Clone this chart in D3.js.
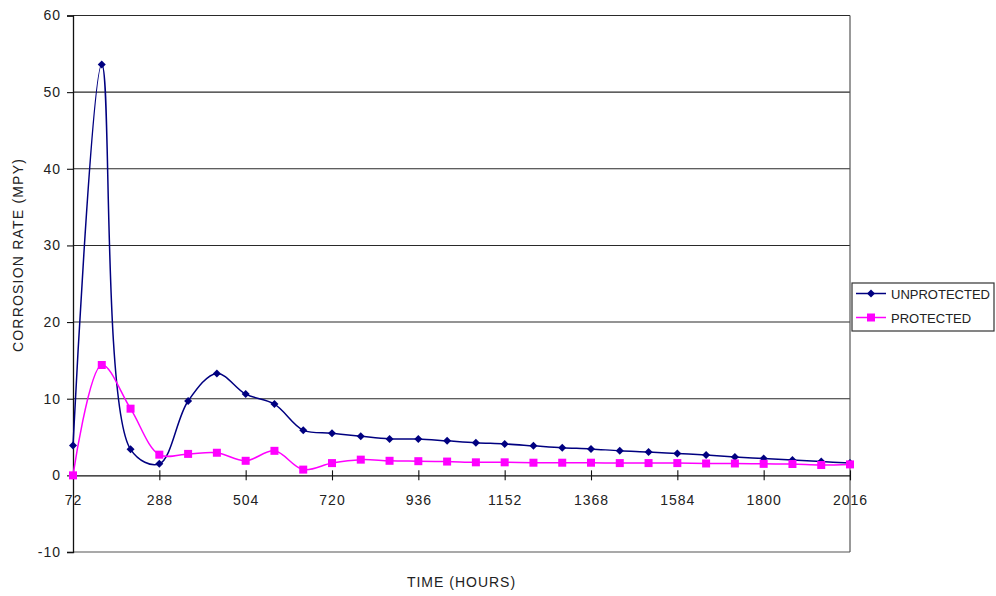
<!DOCTYPE html>
<html>
<head>
<meta charset="utf-8">
<script src="https://cdn.jsdelivr.net/npm/d3@7"></script>
<style>
  html, body { margin: 0; padding: 0; background: #fff; }
  svg { display: block; font-family: "Liberation Sans", Arial, sans-serif; }
</style>
</head>
<body>
<svg id="chart" width="996" height="596"></svg>
<script>
// Sampling times (hours), one reading every 72 h
const hours = [72, 144, 216, 288, 360, 432, 504, 576, 648, 720, 792, 864, 936, 1008,
  1080, 1152, 1224, 1296, 1368, 1440, 1512, 1584, 1656, 1728, 1800, 1872, 1944, 2016];

// Corrosion rate (mpy)
const unprotected = [3.9, 53.6, 3.4, 1.5, 9.7, 13.3, 10.6, 9.3, 5.9, 5.5, 5.1, 4.75, 4.75, 4.5,
  4.25, 4.1, 3.85, 3.6, 3.45, 3.2, 3.05, 2.85, 2.65, 2.4, 2.2, 2.0, 1.8, 1.6];
const protectedRate = [0.0, 14.4, 8.7, 2.7, 2.8, 2.95, 1.9, 3.2, 0.75, 1.6, 2.05, 1.9, 1.85, 1.8,
  1.7, 1.7, 1.65, 1.65, 1.65, 1.6, 1.6, 1.6, 1.55, 1.55, 1.5, 1.48, 1.35, 1.43];

const seriesNames = ["UNPROTECTED", "PROTECTED"];
const xTickLabels = [72, 288, 504, 720, 936, 1152, 1368, 1584, 1800, 2016];
const yTickLabels = [-10, 0, 10, 20, 30, 40, 50, 60];

const svg = d3.select("#chart");
const plotLeft = 73, plotRight = 850, plotTop = 15.5, plotBottom = 552;

const x = d3.scaleLinear().domain([72, 2016]).range([plotLeft, plotRight]);
const y = d3.scaleLinear().domain([-10, 60]).range([plotBottom, plotTop]);

// Horizontal gridlines
svg.append("g")
  .selectAll("line")
  .data(yTickLabels.filter(v => v > 0))
  .join("line")
  .attr("x1", plotLeft).attr("x2", plotRight)
  .attr("y1", d => y(d)).attr("y2", d => y(d))
  .attr("stroke", "#2a2a2a").attr("stroke-width", 1.1);

// Plot frame (right and bottom edges)
svg.append("line").attr("x1", plotRight).attr("x2", plotRight).attr("y1", plotTop).attr("y2", plotBottom)
  .attr("stroke", "#555").attr("stroke-width", 1.2);
svg.append("line").attr("x1", plotLeft).attr("x2", plotRight).attr("y1", plotBottom).attr("y2", plotBottom)
  .attr("stroke", "#555").attr("stroke-width", 1.2);

const plainInt = d => String(d);

// Y axis
const yAxis = svg.append("g").attr("transform", `translate(${plotLeft},0)`)
  .call(d3.axisLeft(y).tickValues(yTickLabels).tickSize(6).tickPadding(6).tickFormat(plainInt));
yAxis.select(".domain").attr("stroke", "#111").attr("stroke-width", 1.3);
yAxis.selectAll(".tick line").attr("stroke", "#111").attr("stroke-width", 1.1);
yAxis.selectAll("text").attr("font-size", 14).attr("fill", "#222")
  .attr("letter-spacing", "1px").attr("font-family", "Liberation Sans, Arial, sans-serif");

// X axis sits on the zero line, ticks crossing it
const xAxis = svg.append("g").attr("transform", `translate(0,${y(0)})`)
  .call(d3.axisBottom(x).tickValues(xTickLabels).tickSize(0).tickPadding(20).tickFormat(plainInt));
xAxis.select(".domain").attr("stroke", "#111").attr("stroke-width", 1.2);
xAxis.selectAll(".tick line").attr("y1", -5).attr("y2", 5).attr("stroke", "#111").attr("stroke-width", 1.1);
xAxis.selectAll("text").attr("font-size", 14).attr("fill", "#222")
  .attr("letter-spacing", "1px").attr("font-family", "Liberation Sans, Arial, sans-serif");

// Series lines
const line = d3.line().x(d => x(d[0])).y(d => y(d[1])).curve(d3.curveCatmullRom.alpha(0.5));
const unprotPts = hours.map((h, i) => [h, unprotected[i]]);
const protPts = hours.map((h, i) => [h, protectedRate[i]]);

svg.append("path").datum(unprotPts).attr("d", line)
  .attr("fill", "none").attr("stroke", "#000080").attr("stroke-width", 1.5);
svg.append("path").datum(protPts).attr("d", line)
  .attr("fill", "none").attr("stroke", "#ff00ff").attr("stroke-width", 1.5);

// Markers
const diamondPath = d3.symbol().type(d3.symbolSquare).size(32);
svg.append("g").selectAll("path").data(unprotPts).join("path")
  .attr("d", diamondPath)
  .attr("transform", d => `translate(${x(d[0])},${y(d[1])}) rotate(45)`)
  .attr("fill", "#000080");
svg.append("g").selectAll("rect").data(protPts).join("rect")
  .attr("x", d => x(d[0]) - 4).attr("y", d => y(d[1]) - 4)
  .attr("width", 8).attr("height", 8).attr("fill", "#ff00ff");

// Axis titles
svg.append("text").attr("x", (plotLeft + plotRight) / 2).attr("y", 587)
  .attr("text-anchor", "middle").attr("font-size", 14).attr("fill", "#222")
  .attr("letter-spacing", "1px").text("TIME (HOURS)");
svg.append("text").attr("transform", "translate(23,255) rotate(-90)")
  .attr("text-anchor", "middle").attr("font-size", 14).attr("fill", "#222")
  .attr("letter-spacing", "1.2px").text("CORROSION RATE (MPY)");

// Legend
const lg = svg.append("g").attr("transform", "translate(852,283)");
lg.append("rect").attr("width", 142).attr("height", 48)
  .attr("fill", "#fff").attr("stroke", "#333").attr("stroke-width", 1.2);
const entries = [
  { name: seriesNames[0], color: "#000080", shape: "diamond" },
  { name: seriesNames[1], color: "#ff00ff", shape: "square" }
];
entries.forEach((e, i) => {
  const cy = 10.5 + i * 24;
  lg.append("line").attr("x1", 4).attr("x2", 34).attr("y1", cy).attr("y2", cy)
    .attr("stroke", e.color).attr("stroke-width", 1.5);
  if (e.shape === "diamond") {
    lg.append("path").attr("d", diamondPath)
      .attr("transform", `translate(19,${cy}) rotate(45)`).attr("fill", e.color);
  } else {
    lg.append("rect").attr("x", 15).attr("y", cy - 4).attr("width", 8).attr("height", 8).attr("fill", e.color);
  }
  lg.append("text").attr("x", 39).attr("y", cy + 5).attr("font-size", 13).attr("fill", "#222")
    .text(e.name);
});
</script>
</body>
</html>
